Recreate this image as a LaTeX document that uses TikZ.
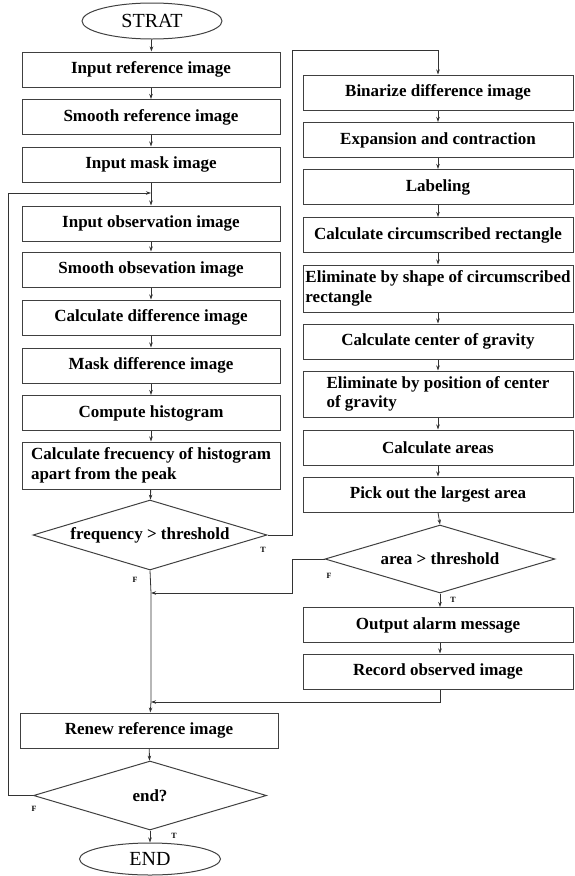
\documentclass[tikz,border=0pt]{standalone}
\usepackage{fontspec}
\setmainfont{Liberation Serif}
\usetikzlibrary{shapes.geometric,arrows.meta}
\begin{document}
\begin{tikzpicture}[x=1pt,y=-1pt,
  box/.style={draw=black!75,line width=1pt,rectangle,inner sep=0pt,
    font=\fontsize{17}{19.5}\selectfont\bfseries,align=center,minimum height=35pt},
  lbox/.style={box,minimum width=258pt},
  rbox/.style={box,minimum width=270pt},
  dec/.style={draw=black!75,line width=1pt,diamond,inner sep=0pt,
    font=\fontsize{17}{19.5}\selectfont\bfseries},
  term/.style={draw=black!75,line width=1pt,ellipse,inner sep=0pt,
    font=\fontsize{20}{22}\selectfont},
  arr/.style={draw=black!80,line width=0.8pt,-{Stealth[length=5pt,width=3.5pt]}},
  lbl/.style={font=\fontsize{8}{9}\selectfont\bfseries,inner sep=0pt}]
\useasboundingbox (0,0) rectangle (574,876);

% left column
\node[term,minimum width=140pt,minimum height=36pt] (start) at (152,21) {STRAT};
\node[lbox] (l1) at (151,69.5) {Input reference image};
\node[lbox] (l2) at (151,117) {Smooth reference image};
\node[lbox] (l3) at (151,164.5) {Input mask image};
\node[lbox] (l4) at (151,223.5) {Input observation image};
\node[lbox] (l5) at (151,269.5) {Smooth obsevation image};
\node[lbox] (l6) at (151,317.5) {Calculate difference image};
\node[lbox] (l7) at (151,365.5) {Mask difference image};
\node[lbox] (l8) at (151,413) {Compute histogram};
\node[lbox,minimum height=47pt,align=left] (l9) at (151,465.5) {Calculate frecuency of histogram\\apart from the peak};
\node[dec,minimum width=234pt,minimum height=70pt,aspect=3.34] (d1) at (150,535) {frequency > threshold};
\node[lbox] (l10) at (149,730.5) {Renew reference image};
\node[dec,minimum width=233pt,minimum height=69pt,aspect=3.3] (d2) at (150,795.5) {end?};
\node[term,minimum width=141pt,minimum height=32pt] (end) at (150,859) {END};

% right column
\node[rbox] (r1) at (438,92.5) {Binarize difference image};
\node[rbox] (r2) at (438,140) {Expansion and contraction};
\node[rbox] (r3) at (438,187) {Labeling};
\node[rbox] (r4) at (438,235) {Calculate circumscribed rectangle};
\node[rbox,minimum height=47pt,align=left] (r5) at (438,288.5) {Eliminate by shape of circumscribed\\rectangle};
\node[rbox] (r6) at (438,341.5) {Calculate center of gravity};
\node[rbox,minimum height=46pt,align=left] (r7) at (438,394) {Eliminate by position of center\\of gravity};
\node[rbox] (r8) at (438,447.5) {Calculate areas};
\node[rbox] (r9) at (438,494.5) {Pick out the largest area};
\node[dec,minimum width=230pt,minimum height=68pt,aspect=3.38] (d3) at (440,559) {area > threshold};
\node[rbox] (r10) at (438,625) {Output alarm message};
\node[rbox] (r11) at (438,671.5) {Record observed image};

% junction points
\coordinate (join) at (151,193);
\coordinate (m1) at (151,593);
\coordinate (m2) at (151,702);
\coordinate (tc) at (292,50);
\coordinate (fc) at (292,559);
\coordinate (lc) at (8,795.5);

% connectors
\draw[arr] (start) -- (l1);
\draw[arr] (l1) -- (l2);
\draw[arr] (l2) -- (l3);
\draw[draw=black!80,line width=0.8pt] (l3.south) -- (join);
\draw[arr] (join) -- (l4);
\draw[arr] (l4) -- (l5);
\draw[arr] (l5) -- (l6);
\draw[arr] (l6) -- (l7);
\draw[arr] (l7) -- (l8);
\draw[arr] (l8) -- (l9);
\draw[arr] (l9) -- (d1);
\draw[draw=black!80,line width=0.8pt] (d1.south) -- (m1) -- (m2);
\draw[arr] (m2) -- (l10);
\draw[arr] (l10) -- (d2);
\draw[arr] (d2) -- (end);
\draw[arr] (d2.west) -- (lc) |- (join);

\draw[arr] (d1.east) -| (tc) -| (r1.north);
\draw[arr] (r1) -- (r2);
\draw[arr] (r2) -- (r3);
\draw[arr] (r3) -- (r4);
\draw[arr] (r4) -- (r5);
\draw[arr] (r5) -- (r6);
\draw[arr] (r6) -- (r7);
\draw[arr] (r7) -- (r8);
\draw[arr] (r8) -- (r9);
\draw[arr] (r9.south) -- (d3.north);
\draw[arr] (d3.south) -- (d3.south |- r10.north);
\draw[arr] (d3.south |- r10.south) -- (d3.south |- r11.north);
\draw[arr] (d3.west) -- (fc) |- (m1);
\draw[arr] (d3.south |- r11.south) |- (m2);

% labels
\node[lbl] (t1) at (263,550) {T};
\node[lbl] (f1) at (135,580) {F};
\node[lbl] (f3) at (329,576) {F};
\node[lbl] (t3) at (453,600) {T};
\node[lbl] (f2) at (34,809) {F};
\node[lbl] (t2) at (174,836) {T};
\end{tikzpicture}
\end{document}
